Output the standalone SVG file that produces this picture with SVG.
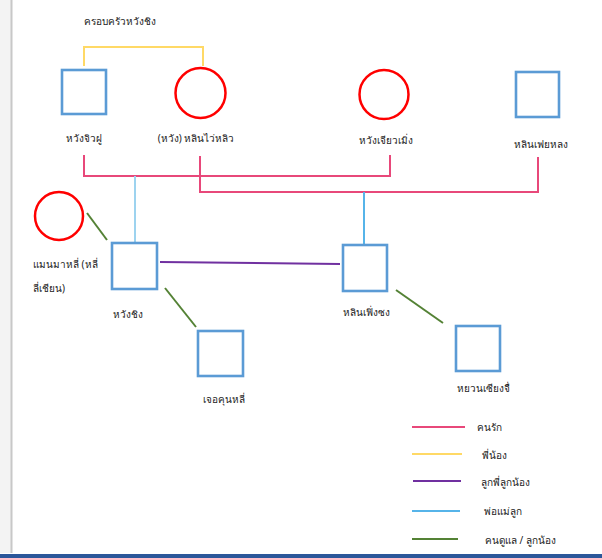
<svg xmlns="http://www.w3.org/2000/svg" width="602" height="558" viewBox="0 0 602 558">
<style>
.t{font-family:"Noto Sans","DejaVu Sans","Liberation Sans",sans-serif;font-size:10px;fill:#222}
.m{stroke:#5b9bd5;stroke-width:2.6;fill:#fff}
.f{stroke:#ff0000;stroke-width:2.5;fill:#fff}
.c{fill:none;stroke-width:2}
.love{stroke:#e8487a}
.sib{stroke:#ffd966}
.cous{stroke:#7030a0}
.par{stroke:#56b4e9}
.care{stroke:#548235}
</style>
<rect x="0" y="0" width="602" height="558" fill="#fff"/>
<rect x="0" y="0" width="11" height="553" fill="#f3f3f3"/>
<line x1="11.5" y1="0" x2="11.5" y2="553" stroke="#c8c8c8" stroke-width="2"/>
<rect x="0" y="554" width="602" height="4" fill="#2b579a"/>
<text class="t" x="84" y="25">ครอบครัวหวังชิง</text>
<g id="connectors">
<polyline class="c sib" points="84,66 84,47 203,47 203,66"/>
<polyline class="c love" points="84,155 84,176 390,176 390,155"/>
<polyline class="c love" points="200,156 200,192 538,192 538,157"/>
<line class="c" x1="135" y1="176" x2="135" y2="243" stroke="#9dd3ef" stroke-width="1"/>
<line class="c par" x1="364" y1="192" x2="364" y2="245" stroke-width="3"/>
<line class="c cous" x1="160" y1="262" x2="340" y2="264"/>
<line class="c care" x1="87" y1="213" x2="107" y2="240"/>
<line class="c care" x1="165" y1="288" x2="196" y2="327"/>
<line class="c care" x1="396" y1="290" x2="443" y2="323"/>
</g>
<g id="n1"><rect class="m" x="62" y="70" width="44" height="44"/><text class="t" x="84" y="142" text-anchor="middle">หวังจิวฝู</text></g>
<g id="n2"><circle class="f" cx="200.5" cy="93" r="25"/><text class="t" x="196" y="142" text-anchor="middle">(หวัง) หลินไว่หลิว</text></g>
<g id="n3"><circle class="f" cx="384" cy="94.5" r="24.5"/><text class="t" x="386" y="144" text-anchor="middle">หวังเจียวเมิ่ง</text></g>
<g id="n4"><rect class="m" x="516" y="72" width="43" height="45"/><text class="t" x="541" y="148" text-anchor="middle">หลินเฟยหลง</text></g>
<g id="n5"><circle class="f" cx="59" cy="216" r="24"/><text class="t" x="33" y="268">แมนมาหลี่ (หลี่</text><text class="t" x="33" y="292">ลี่เชียน)</text></g>
<g id="n6"><rect class="m" x="112" y="243" width="45" height="46"/><text class="t" x="128" y="318" text-anchor="middle">หวังชิง</text></g>
<g id="n7"><rect class="m" x="343" y="245" width="44" height="46"/><text class="t" x="366" y="316" text-anchor="middle">หลินเฟิ่งซง</text></g>
<g id="n8"><rect class="m" x="198" y="331" width="45" height="45"/><text class="t" x="224" y="403" text-anchor="middle">เจอคุนหลี่</text></g>
<g id="n9"><rect class="m" x="456" y="326" width="44" height="45"/><text class="t" x="483" y="392" text-anchor="middle">หยวนเซียงจื่</text></g>
<g id="legend">
<line class="c love" x1="412" y1="427" x2="465" y2="427"/><text class="t" x="477" y="431">คนรัก</text>
<line class="c sib" x1="412" y1="454" x2="462" y2="454"/><text class="t" x="482" y="459">พี่น้อง</text>
<line class="c cous" x1="413" y1="481" x2="461" y2="481"/><text class="t" x="481" y="486">ลูกพี่ลูกน้อง</text>
<line class="c par" x1="412" y1="511" x2="460" y2="511"/><text class="t" x="484" y="515">พ่อแม่ลูก</text>
<line class="c care" x1="412" y1="539" x2="458" y2="539"/><text class="t" x="485" y="544">คนดูแล / ลูกน้อง</text>
</g>
</svg>
